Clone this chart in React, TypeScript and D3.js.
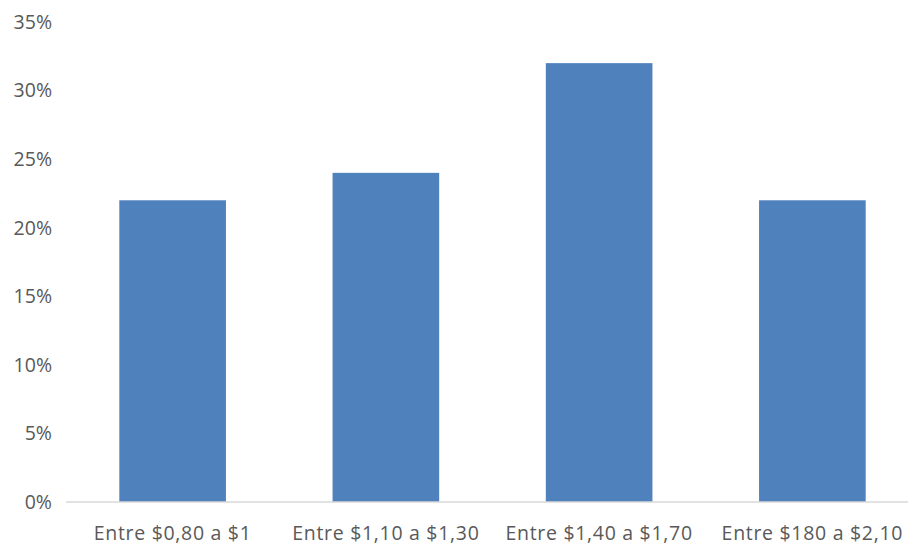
import React from "react";
import * as d3 from "d3";

const categories = ["Entre $0,80 a $1", "Entre $1,10 a $1,30", "Entre $1,40 a $1,70", "Entre $180 a $2,10"];
const values = [0.22, 0.24, 0.32, 0.22];
const yTicks = [0, 0.05, 0.1, 0.15, 0.2, 0.25, 0.3, 0.35];

const W = 908;
const H = 546;

export default function App() {
  const x = d3.scaleBand<string>().domain(categories).range([66, 919]).paddingInner(0.5).paddingOuter(0.25);
  const y = d3.scaleLinear().domain([0, 0.35]).range([502, 22]);
  const fmt = d3.format(".0%");
  const font = "'Open Sans', 'DejaVu Sans', sans-serif";
  return (
    <svg width={W} height={H} style={{ position: "absolute", left: 0, top: 0, background: "#fff" }}>
      <rect width={W} height={H} fill="#fff" />
      {yTicks.map((t) => (
        <text key={t} x={52} y={y(t)} dy="0.35em" textAnchor="end" fontFamily={font} fontSize={19.5} fill="#595959">
          {fmt(t)}
        </text>
      ))}
      {categories.map((c, i) => (
        <rect key={c} x={x(c)} y={y(values[i])} width={x.bandwidth()} height={y(0) - y(values[i])} fill="#4F81BD" />
      ))}
      <line x1={66} x2={W} y1={y(0)} y2={y(0)} stroke="#d9d9d9" strokeWidth={1.5} />
      {categories.map((c) => (
        <text key={c} x={x(c)! + x.bandwidth() / 2} y={540} textAnchor="middle" fontFamily={font} fontSize={19.5} letterSpacing={0.7} fill="#595959">
          {c}
        </text>
      ))}
    </svg>
  );
}
